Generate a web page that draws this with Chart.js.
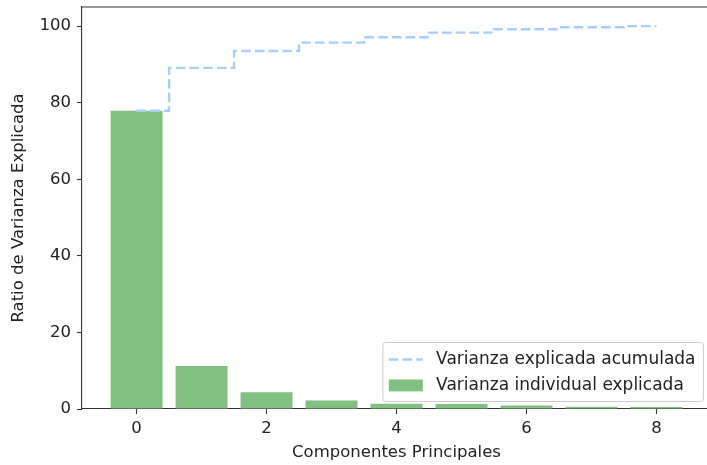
<!DOCTYPE html>
<html lang="es">
<head>
    <meta charset="UTF-8">
    <title>Varianza explicada por componente</title>
    <script src="https://cdn.jsdelivr.net/npm/chart.js"></script>
    <style>
        html, body { margin: 0; padding: 0; background: #ffffff; overflow: hidden; }
        #wrap { position: relative; width: 720px; height: 465px; }
    </style>
</head>
<body>
    <div id="wrap">
        <canvas id="pcaChart" width="720" height="465"></canvas>
    </div>
    <script>
        // Componentes principales y su varianza (%)
        const componentes = [0, 1, 2, 3, 4, 5, 6, 7, 8];
        const varianzaIndividual = [77.9, 11.2, 4.4, 2.2, 1.4, 1.3, 0.9, 0.6, 0.5];
        const varianzaAcumulada = [77.9, 89.1, 93.5, 95.7, 97.1, 98.3, 99.2, 99.7, 100.0];
        const ticksX = [0, 2, 4, 6, 8];
        const ticksY = [0, 20, 40, 60, 80, 100];

        const etiquetaAcumulada = 'Varianza explicada acumulada';
        const etiquetaIndividual = 'Varianza individual explicada';

        const FUENTE = 'DejaVu Sans';
        const TAM = 16.5;
        const TAM_LEYENDA = 17;
        const colorBarra = '#80c080';
        const colorLinea = '#a6cdfb';
        const colorEje = '#333333';
        const colorTexto = '#222222';
        const grosorLinea = 2.4;
        const guiones = [9.5, 4.2];

        // Marco superior/derecho y leyenda dentro del área del gráfico
        const marcoYLeyenda = {
            id: 'marcoYLeyenda',
            afterDraw(chart) {
                const { ctx, chartArea: a } = chart;
                ctx.save();
                ctx.strokeStyle = colorEje;
                ctx.lineWidth = 1.1;
                ctx.beginPath();
                ctx.moveTo(a.left, a.top);
                ctx.lineTo(a.right, a.top);
                ctx.lineTo(a.right, a.bottom);
                ctx.stroke();

                const f = TAM_LEYENDA;
                ctx.font = f + 'px "' + FUENTE + '"';
                const anchoTexto = Math.max(
                    ctx.measureText(etiquetaAcumulada).width,
                    ctx.measureText(etiquetaIndividual).width
                );
                const pad = 0.38 * f, largo = 2 * f, sep = 0.78 * f, fila = 1.53 * f;
                const w = pad * 2 + largo + sep + anchoTexto + 1;
                const h = pad * 2 + fila * 2 - 0.35 * f;
                const right = a.right - 8;
                const bottom = a.bottom - 8;
                const x = right - w, y = bottom - h;

                ctx.fillStyle = 'rgba(255,255,255,0.8)';
                ctx.strokeStyle = '#cccccc';
                ctx.lineWidth = 1;
                ctx.beginPath();
                ctx.roundRect(x + 0.5, y + 0.5, w, h, 3);
                ctx.fill();
                ctx.stroke();

                const y1 = y + pad + fila / 2 - 0.12 * f;
                const y2 = y1 + fila;
                const hx = x + pad;

                ctx.strokeStyle = colorLinea;
                ctx.lineWidth = grosorLinea;
                ctx.setLineDash(guiones);
                ctx.beginPath();
                ctx.moveTo(hx, y1);
                ctx.lineTo(hx + largo, y1);
                ctx.stroke();
                ctx.setLineDash([]);

                ctx.fillStyle = colorBarra;
                ctx.fillRect(hx, y2 - 0.35 * f, largo, 0.7 * f);

                ctx.fillStyle = colorTexto;
                ctx.textBaseline = 'middle';
                ctx.fillText(etiquetaAcumulada, hx + largo + sep, y1);
                ctx.fillText(etiquetaIndividual, hx + largo + sep, y2);
                ctx.restore();
            }
        };

        const ctx = document.getElementById('pcaChart').getContext('2d');
        new Chart(ctx, {
            data: {
                datasets: [
                    {
                        type: 'line',
                        label: etiquetaAcumulada,
                        data: componentes.map((c, i) => ({ x: c, y: varianzaAcumulada[i] })),
                        borderColor: colorLinea,
                        borderWidth: grosorLinea,
                        borderDash: guiones,
                        stepped: 'middle',
                        pointRadius: 0,
                        fill: false,
                        order: 0
                    },
                    {
                        type: 'bar',
                        label: etiquetaIndividual,
                        data: componentes.map((c, i) => ({ x: c, y: varianzaIndividual[i] })),
                        backgroundColor: colorBarra,
                        borderWidth: 0,
                        barPercentage: 0.8,
                        categoryPercentage: 1.0,
                        order: 1
                    }
                ]
            },
            options: {
                responsive: false,
                animation: false,
                layout: { padding: { top: 7, right: 9, left: 0, bottom: 0 } },
                plugins: {
                    legend: { display: false },
                    tooltip: { enabled: false }
                },
                scales: {
                    x: {
                        type: 'linear',
                        min: -0.84,
                        max: 8.84,
                        offset: false,
                        afterFit: s => {
                            s.height = 56;
                            s.paddingLeft = 0;
                            s.paddingRight = 0;
                        },
                        afterBuildTicks: s => { s.ticks = ticksX.map(v => ({ value: v })); },
                        grid: { offset: false, drawOnChartArea: false, tickLength: 5, tickColor: colorEje, tickWidth: 1.1 },
                        border: { display: true, color: colorEje, width: 1.1 },
                        ticks: { color: colorTexto, padding: 5, font: { family: FUENTE, size: TAM } },
                        title: {
                            display: true,
                            text: 'Componentes Principales',
                            color: colorTexto,
                            font: { family: FUENTE, size: TAM },
                            padding: { top: 0, bottom: 2 }
                        }
                    },
                    y: {
                        min: 0,
                        max: 105,
                        afterFit: s => {
                            s.width = 82;
                            s.paddingTop = 0;
                            s.paddingBottom = 0;
                        },
                        afterBuildTicks: s => { s.ticks = ticksY.map(v => ({ value: v })); },
                        grid: { drawOnChartArea: false, tickLength: 5, tickColor: colorEje, tickWidth: 1.1 },
                        border: { display: true, color: colorEje, width: 1.1 },
                        ticks: { color: colorTexto, padding: 6, font: { family: FUENTE, size: TAM } },
                        title: {
                            display: true,
                            text: 'Ratio de Varianza Explicada',
                            color: colorTexto,
                            font: { family: FUENTE, size: TAM },
                            padding: { top: 9, bottom: 0 }
                        }
                    }
                }
            },
            plugins: [marcoYLeyenda]
        });
    </script>
</body>
</html>
